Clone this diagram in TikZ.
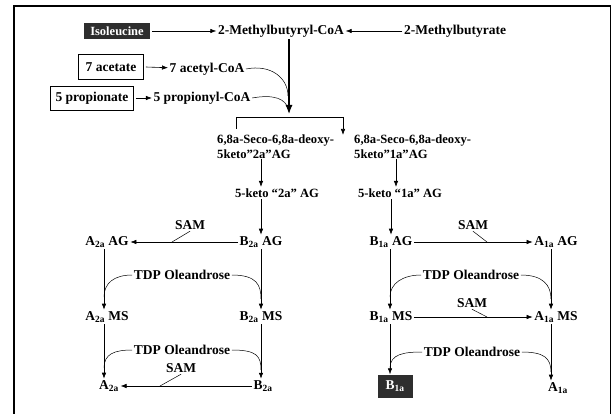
\documentclass[tikz,border=0pt]{standalone}
\usepackage{fontspec}
\setmainfont{Liberation Serif}
\usetikzlibrary{arrows.meta,calc,positioning}

\begin{document}
\begin{tikzpicture}[x=1pt, y=-1pt, >={Latex[length=6pt,width=4.5pt]},
  font=\bfseries\fontsize{13.5}{15}\selectfont,
  every node/.style={inner sep=1.5pt},
  small/.style={font=\bfseries\fontsize{12.6}{15}\selectfont},
  dark/.style={fill=black!82, text=white, inner sep=2pt},
  src/.style={draw, line width=0.6pt},
  conv/.style={->, line width=0.6pt},
  feed/.style={line width=0.5pt}]
\useasboundingbox (0,0) rectangle (613,414);
% frame
\draw[line width=1.6pt] (14,414) -- (14,6) -- (611,6);
\draw[line width=0.7pt] (610.5,6) -- (610.5,414);

% precursors
\node[dark, minimum width=66, minimum height=16, font=\bfseries\fontsize{12.5}{15}\selectfont] (iso) at (117,31) {Isoleucine};
\node (mbcoa) at (281,31) {2-Methylbutyryl-CoA};
\node (mbrate) at (455,31) {2-Methylbutyrate};
\node[src, minimum width=65, minimum height=25] (acetate) at (111,67) {7 acetate};
\node (acetylcoa) at (207,69) {7 acetyl-CoA};
\node[src, minimum width=83, minimum height=24] (propionate) at (92,98) {5 propionate};
\node (propionylcoa) at (202,98) {5 propionyl-CoA};
\draw[conv] ([xshift=2]iso.east) -- (mbcoa);
\draw[conv] (mbrate) -- (mbcoa);
\draw[conv] ([xshift=2]acetate.east) -- (acetylcoa);
\draw[conv] ([xshift=2]propionate.east) -- (propionylcoa);
\coordinate (merge) at (289,114);
\coordinate (ja) at (288,96);
\coordinate (jp) at (288,109);
\draw[->, line width=1.2pt, >={Latex[length=9pt,width=7pt]}] (mbcoa.south -| merge) -- (merge);
\draw[feed] (acetylcoa.east) .. controls +(25,-5) and +(0,-18) .. (ja);
\draw[feed] (propionylcoa.east) .. controls +(22,-4) and +(-2,-10) .. (jp);

% aglycones
\coordinate (brl) at (236,129);
\coordinate (brr) at (343,117);
\node[small, anchor=north west, align=left, inner sep=0] (seco2a) at (217,135) {6,8a-Seco-6,8a-deoxy-\\5keto”2a”AG};
\node[small, anchor=north west, align=left, inner sep=0] (seco1a) at (354,135) {6,8a-Seco-6,8a-deoxy-\\5keto”1a”AG};
\draw[feed] (brl) |- (brr);
\draw[conv] (brr) -- (brr |- seco1a.north);
\node[small] (keto2a) at (277,193) {5-keto “2a” AG};
\node[small] (keto1a) at (400,193) {5-keto “1a” AG};

\node (a2aag) at (107,242) {A\textsubscript{2a} AG};
\node (b2aag) at (261,242) {B\textsubscript{2a} AG};
\node (b1aag) at (391,242) {B\textsubscript{1a} AG};
\node (a1aag) at (556,242) {A\textsubscript{1a} AG};
\draw[conv] (seco2a.south -| b2aag) -- (keto2a.north -| b2aag);
\draw[conv] (keto2a.south -| b2aag) -- (b2aag);
\draw[conv] ([xshift=5]seco1a.south -| b1aag) -- ([xshift=5]keto1a.north -| b1aag);
\draw[conv] (keto1a.south -| b1aag) -- (b1aag);

% methylation, AG
\node (sam1) at (190,225) {SAM};
\node (sam2) at (473,225) {SAM};
\coordinate (s1) at (172,242);
\coordinate (s2) at (487,242);
\draw[conv] (b2aag) -- (a2aag);
\draw[conv] (b1aag) -- (a1aag);
\draw[feed] (sam1.south) -- (s1);
\draw[feed] (sam2.south) -- (s2);

% glycosylation to MS
\node (a2ams) at (107,317) {A\textsubscript{2a} MS};
\node (b2ams) at (261,317) {B\textsubscript{2a} MS};
\node (b1ams) at (391,317) {B\textsubscript{1a} MS};
\node (a1ams) at (556,317) {A\textsubscript{1a} MS};
\node (tdp1l) at (182,275) {TDP Oleandrose};
\node (tdp1r) at (471,275) {TDP Oleandrose};
\coordinate (t1a) at (104,297);
\coordinate (t1b) at (261,299);
\coordinate (t1c) at (390,297);
\coordinate (t1d) at (551,299);
\draw[conv] (a2aag.south -| t1a) -- (a2ams.north -| t1a);
\draw[conv] (b2aag) -- (b2ams);
\draw[conv] (b1aag.south -| t1c) -- (b1ams.north -| t1c);
\draw[conv] (a1aag.south -| t1d) -- (a1ams.north -| t1d);
\draw[feed] (tdp1l.west) .. controls +(-18,0) and +(0,-14) .. (t1a);
\draw[feed] (tdp1l.east) .. controls +(25,0) and +(0,-14) .. (t1b);
\draw[feed] (tdp1r.west) .. controls +(-18,0) and +(0,-14) .. (t1c);
\draw[feed] (tdp1r.east) .. controls +(22,0) and +(0,-14) .. (t1d);

% methylation, MS
\node (sam3) at (472,303) {SAM};
\coordinate (s3) at (487,317);
\draw[conv] (b1ams) -- (a1ams);
\draw[feed] (sam3.south) -- (s3);

% glycosylation to avermectins
\node (a2a) at (109,386) {A\textsubscript{2a}};
\node (b2a) at (263,386) {B\textsubscript{2a}};
\node[dark, minimum width=35, minimum height=23] (b1a) at (395,386) {B\textsubscript{1a}};
\node (a1a) at (558,388) {A\textsubscript{1a}};
\node (tdp2l) at (182,350) {TDP Oleandrose};
\node (tdp2r) at (472,352) {TDP Oleandrose};
\coordinate (t2a) at (104,368);
\coordinate (t2b) at (261,370);
\coordinate (t2c) at (390,368);
\coordinate (t2d) at (551,372);
\draw[conv] (a2ams.south -| t1a) -- (a2a.north -| t1a);
\draw[conv] (b2ams.south -| t1b) -- (b2a.north -| t1b);
\draw[conv] (b1ams.south -| t1c) -- (b1a.north -| t1c);
\draw[conv] (a1ams.south -| t1d) -- (a1a.north -| t1d);
\draw[feed] (tdp2l.west) .. controls +(-18,0) and +(0,-14) .. (t2a);
\draw[feed] (tdp2l.east) .. controls +(25,0) and +(0,-14) .. (t2b);
\draw[feed] (tdp2r.west) .. controls +(-18,0) and +(0,-14) .. (t2c);
\draw[feed] (tdp2r.east) .. controls +(22,0) and +(0,-14) .. (t2d);

% methylation, final
\node (sam4) at (181,368) {SAM};
\coordinate (s4) at (160,386);
\draw[conv] (b2a) -- (a2a);
\draw[feed] (sam4.south) -- (s4);
\end{tikzpicture}
\end{document}
